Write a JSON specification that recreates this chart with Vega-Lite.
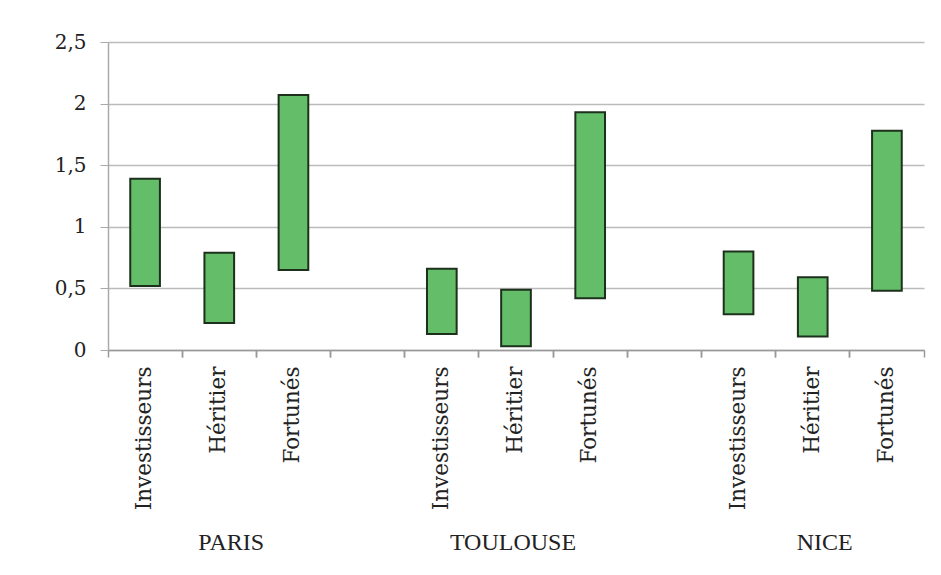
{
  "$schema": "https://vega.github.io/schema/vega-lite/v6.json",
  "autosize": {"type": "none"},
  "width": 816,
  "height": 308,
  "padding": {"left": 108, "top": 42, "right": 17, "bottom": 225},
  "background": "white",
  "config": {"view": {"stroke": null}},
  "data": {
    "values": [
      {"slot": "PARIS|Investisseurs", "city": "PARIS", "type": "Investisseurs", "low": 0.52, "high": 1.39},
      {"slot": "PARIS|Héritier", "city": "PARIS", "type": "Héritier", "low": 0.22, "high": 0.79},
      {"slot": "PARIS|Fortunés", "city": "PARIS", "type": "Fortunés", "low": 0.65, "high": 2.07},
      {"slot": "TOULOUSE|Investisseurs", "city": "TOULOUSE", "type": "Investisseurs", "low": 0.13, "high": 0.66},
      {"slot": "TOULOUSE|Héritier", "city": "TOULOUSE", "type": "Héritier", "low": 0.03, "high": 0.49},
      {"slot": "TOULOUSE|Fortunés", "city": "TOULOUSE", "type": "Fortunés", "low": 0.42, "high": 1.93},
      {"slot": "NICE|Investisseurs", "city": "NICE", "type": "Investisseurs", "low": 0.29, "high": 0.8},
      {"slot": "NICE|Héritier", "city": "NICE", "type": "Héritier", "low": 0.11, "high": 0.59},
      {"slot": "NICE|Fortunés", "city": "NICE", "type": "Fortunés", "low": 0.48, "high": 1.78}
    ]
  },
  "resolve": {"axis": {"x": "independent"}},
  "layer": [
    {
      "mark": {"type": "bar", "width": {"band": 0.4}, "fill": "#64bd68", "stroke": "#1c301c", "strokeWidth": 2},
      "encoding": {
        "x": {
          "field": "slot", "type": "nominal", "sort": null,
          "scale": {
            "domain": ["PARIS|Investisseurs", "PARIS|Héritier", "PARIS|Fortunés", "gap1",
                       "TOULOUSE|Investisseurs", "TOULOUSE|Héritier", "TOULOUSE|Fortunés", "gap2",
                       "NICE|Investisseurs", "NICE|Héritier", "NICE|Fortunés"],
            "paddingInner": 0, "paddingOuter": 0
          },
          "axis": {
            "orient": "bottom",
            "title": null,
            "labelExpr": "indexof(datum.value, '|') > 0 ? split(datum.value, '|')[1] : ''",
            "labelAngle": -90,
            "labelAlign": "right",
            "labelBaseline": "middle",
            "labelFont": "DejaVu Serif",
            "labelFontSize": 21.5,
            "labelColor": "#222",
            "labelPadding": 16,
            "ticks": false,
            "domainColor": "#999",
            "domainWidth": 1.5,
            "grid": false
          }
        },
        "y": {
          "field": "low", "type": "quantitative",
          "scale": {"domain": [0, 2.5], "nice": false},
          "axis": {
            "title": null,
            "values": [0, 0.5, 1, 1.5, 2, 2.5],
            "labelExpr": "replace(toString(datum.value), '.', ',')",
            "labelFont": "DejaVu Serif",
            "labelFontSize": 20,
            "labelColor": "#222",
            "labelPadding": 14,
            "tickSize": 8,
            "tickColor": "#aaa",
            "gridColor": "#bbb",
            "gridWidth": 1.5,
            "domainColor": "#aaa",
            "domainWidth": 1.5
          }
        },
        "y2": {"field": "high"}
      }
    },
    {
      "mark": {"type": "bar", "opacity": 0},
      "encoding": {
        "x": {
          "field": "slot", "type": "nominal", "sort": null,
          "axis": {
            "orient": "bottom",
            "title": null,
            "labelExpr": "indexof(datum.value, 'Héritier') >= 0 ? split(datum.value, '|')[0] : ''",
            "labelAngle": 0,
            "labelAlign": "center",
            "labelBaseline": "middle",
            "labelFont": "Liberation Serif",
            "labelFontSize": 24,
            "labelColor": "#222",
            "labelPadding": 0,
            "labelOffset": {"condition": {"test": "indexof(datum.value, 'TOULOUSE') >= 0", "value": -3}, "value": 12},
            "offset": 192,
            "ticks": false,
            "domain": false,
            "grid": false
          }
        },
        "y": {"field": "low", "type": "quantitative"},
        "y2": {"field": "high"}
      }
    },
    {
      "mark": {"type": "bar", "opacity": 0},
      "encoding": {
        "x": {
          "field": "slot", "type": "nominal", "sort": null,
          "axis": {
            "orient": "bottom",
            "title": null,
            "bandPosition": 0,
            "labels": false,
            "domain": false,
            "grid": false,
            "tickSize": 7,
            "tickColor": "#999",
            "tickWidth": 1.5
          }
        },
        "y": {"field": "low", "type": "quantitative"},
        "y2": {"field": "high"}
      }
    },
    {
      "mark": {"type": "bar", "opacity": 0},
      "encoding": {
        "x": {
          "field": "slot", "type": "nominal", "sort": null,
          "axis": {
            "orient": "bottom",
            "title": null,
            "bandPosition": 1,
            "labels": false,
            "domain": false,
            "grid": false,
            "tickSize": 7,
            "tickColor": "#999",
            "tickWidth": 1.5
          }
        },
        "y": {"field": "low", "type": "quantitative"},
        "y2": {"field": "high"}
      }
    }
  ]
}
